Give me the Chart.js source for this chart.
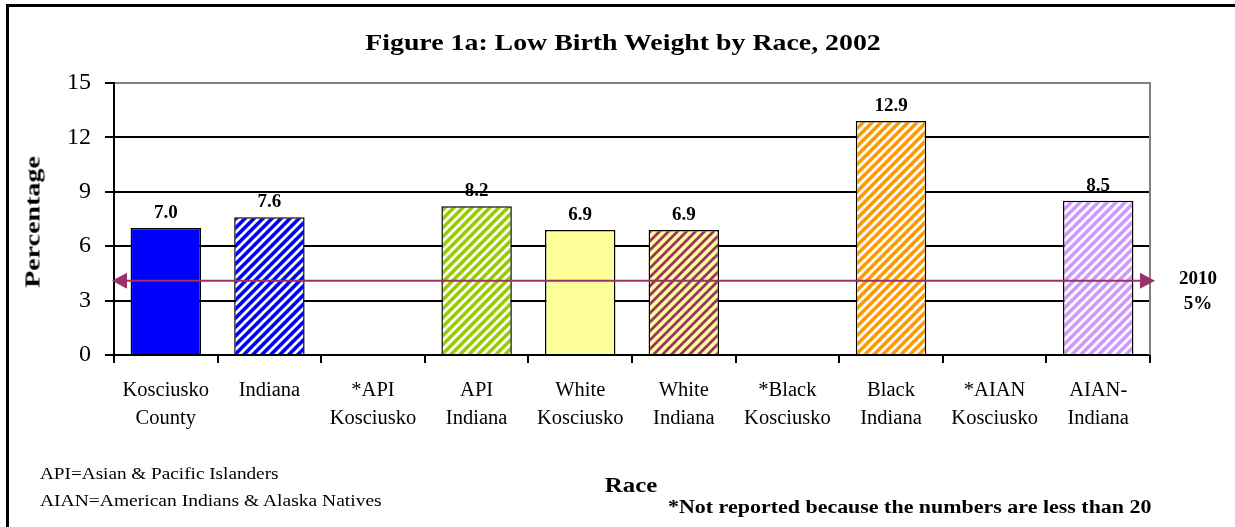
<!DOCTYPE html>
<html lang="en">
<head>
    <meta charset="UTF-8">
    <title>Figure 1a: Low Birth Weight by Race, 2002</title>
    <script src="https://cdn.jsdelivr.net/npm/chart.js"></script>
    <style>
        body {
            margin: 0;
            background: white;
            font-family: 'Liberation Serif', 'Times New Roman', serif;
            color: black;
            overflow: hidden;
        }
        .frame {
            position: absolute;
            left: 6px;
            top: 4px;
            width: 1300px;
            height: 600px;
            border-left: 3px solid black;
            border-top: 3px solid black;
        }
        #chart {
            position: absolute;
            left: 0;
            top: 0;
        }
        .txt {
            position: absolute;
            white-space: nowrap;
        }
        .title {
            left: 0;
            width: 1246px;
            top: 29px;
            text-align: center;
            font-size: 24px;
            font-weight: bold;
            transform: scaleX(1.16);
        }
        .note { left: 40px; font-size: 16px; transform-origin: left center; }
        .race { left: 0; width: 1262px; top: 472px; text-align: center; font-size: 22px; font-weight: bold; transform: scaleX(1.13); }
        .foot { left: 668px; top: 497px; font-size: 18px; font-weight: bold; transform: scaleX(1.22); transform-origin: left center; }
        .goal { left: 1170px; width: 56px; text-align: center; font-size: 19px; font-weight: bold; line-height: 25px; top: 265px; }
        .ytitle {
            left: 33px; top: 222px;
            font-size: 20px; font-weight: bold;
            transform: translate(-50%, -50%) rotate(-90deg) scaleX(1.4);
        }
    </style>
</head>
<body>
    <div class="frame"></div>
    <canvas id="chart" width="1235" height="527"></canvas>
    <div class="txt title">Figure 1a: Low Birth Weight by Race, 2002</div>
    <div class="txt ytitle">Percentage</div>
    <div class="txt note" style="top:465px; transform:scaleX(1.2)">API=Asian &amp; Pacific Islanders</div>
    <div class="txt note" style="top:492px; transform:scaleX(1.22)">AIAN=American Indians &amp; Alaska Natives</div>
    <div class="txt race">Race</div>
    <div class="txt foot">*Not reported because the numbers are less than 20</div>
    <div class="txt goal">2010<br>5%</div>

    <script>
        // data
        const categories = [
            ["Kosciusko", "County"], ["Indiana"], ["*API", "Kosciusko"], ["API", "Indiana"],
            ["White", "Kosciusko"], ["White", "Indiana"], ["*Black", "Kosciusko"], ["Black", "Indiana"],
            ["*AIAN", "Kosciusko"], ["AIAN-", "Indiana"]
        ];
        const percentages = [7.0, 7.6, null, 8.2, 6.9, 6.9, null, 12.9, null, 8.5];
        const yMin = 0, yMax = 15, yStep = 3;
        const targetValue = 4.1; // "2010 5%" line, as drawn

        // fill: [base colour, stripe colour or null]
        const fills = [
            ["#0000FF", null], ["#0000FF", "#FFFFFF"], ["#FFFFFF", null], ["#99CC00", "#FFFFFF"],
            ["#FFFF99", null], ["#FFFF99", "#993366"], ["#FFFFFF", null], ["#FF9900", "#FFFFFF"],
            ["#FFFFFF", null], ["#CC99FF", "#FFFFFF"]
        ];

        function stripes(base, line) {
            const s = 9;
            const c = document.createElement("canvas");
            c.width = s; c.height = s;
            const g = c.getContext("2d");
            g.fillStyle = base;
            g.fillRect(0, 0, s, s);
            g.strokeStyle = line;
            g.lineWidth = 2.8;
            g.beginPath();
            g.moveTo(0, s); g.lineTo(s, 0);
            g.moveTo(-2, 2); g.lineTo(2, -2);
            g.moveTo(s - 2, s + 2); g.lineTo(s + 2, s - 2);
            g.stroke();
            return g.createPattern(c, "repeat");
        }

        const barFills = fills.map(f => f[1] ? stripes(f[0], f[1]) : f[0]);

        const serif = "'Liberation Serif', 'Times New Roman', serif";

        const valueLabels = {
            id: "valueLabels",
            afterDatasetsDraw(chart) {
                const ctx = chart.ctx;
                const meta = chart.getDatasetMeta(0);
                ctx.save();
                ctx.font = "bold 19px " + serif;
                ctx.fillStyle = "black";
                ctx.textAlign = "center";
                ctx.textBaseline = "alphabetic";
                meta.data.forEach((bar, i) => {
                    const v = percentages[i];
                    if (v === null) return;
                    ctx.fillText(v.toFixed(1), bar.x, bar.y - 10);
                });
                ctx.restore();
            }
        };

        const frameAndTarget = {
            id: "frameAndTarget",
            afterDatasetsDraw(chart) {
                const ctx = chart.ctx;
                const a = chart.chartArea;
                ctx.save();
                // grey right edge of plot area
                ctx.strokeStyle = "#808080";
                ctx.lineWidth = 2;
                ctx.beginPath();
                ctx.moveTo(a.right, a.top - 1);
                ctx.lineTo(a.right, a.bottom);
                ctx.stroke();

                // target arrow line
                const y = chart.scales.y.getPixelForValue(targetValue);
                const x0 = a.left - 2, x1 = a.right + 5;
                ctx.strokeStyle = "#993366";
                ctx.fillStyle = "#993366";
                ctx.lineWidth = 2;
                ctx.beginPath();
                ctx.moveTo(x0 + 10, y);
                ctx.lineTo(x1 - 10, y);
                ctx.stroke();
                ctx.beginPath();
                ctx.moveTo(x0, y);
                ctx.lineTo(x0 + 15, y - 8);
                ctx.lineTo(x0 + 15, y + 8);
                ctx.closePath();
                ctx.fill();
                ctx.beginPath();
                ctx.moveTo(x1, y);
                ctx.lineTo(x1 - 15, y - 8);
                ctx.lineTo(x1 - 15, y + 8);
                ctx.closePath();
                ctx.fill();
                ctx.restore();
            }
        };

        new Chart(document.getElementById("chart"), {
            type: "bar",
            data: {
                labels: categories,
                datasets: [{
                    data: percentages,
                    backgroundColor: barFills,
                    borderColor: "black",
                    borderWidth: 1.5,
                    categoryPercentage: 1.0,
                    barPercentage: 0.68
                }]
            },
            options: {
                responsive: false,
                animation: false,
                events: [],
                layout: { padding: { left: 0, top: 83, right: 85, bottom: 82 } },
                plugins: {
                    legend: { display: false },
                    tooltip: { enabled: false },
                    title: { display: false }
                },
                scales: {
                    x: {
                        afterFit(scale) { scale.height = 90; },
                        border: { color: "black", width: 2 },
                        grid: {
                            offset: true,
                            drawOnChartArea: false,
                            drawTicks: true,
                            tickLength: 8,
                            tickColor: "black",
                            lineWidth: 2
                        },
                        ticks: {
                            color: "black",
                            padding: 14,
                            maxRotation: 0,
                            autoSkip: false,
                            font: { family: serif, size: 20.5, lineHeight: "28px" }
                        }
                    },
                    y: {
                        min: yMin,
                        max: yMax,
                        afterFit(scale) { scale.width = 114; },
                        border: { color: "black", width: 2 },
                        grid: {
                            color: ctx => ctx.tick && ctx.tick.value === yMax ? "#808080" : "black",
                            tickColor: "black",
                            lineWidth: 2,
                            tickLength: 9
                        },
                        ticks: {
                            stepSize: yStep,
                            color: "black",
                            padding: 14,
                            font: { family: serif, size: 24 }
                        }
                    }
                }
            },
            plugins: [valueLabels, frameAndTarget]
        });
    </script>
</body>
</html>
